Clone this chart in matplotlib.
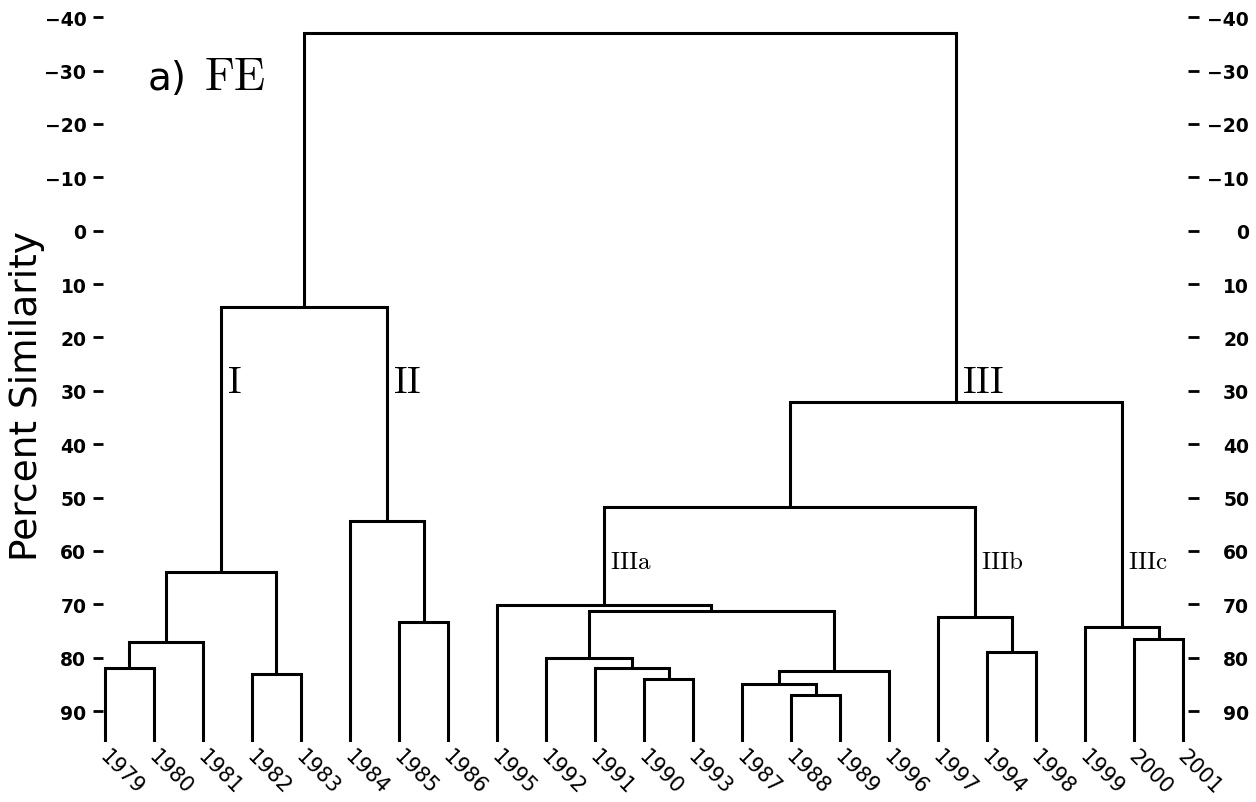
import matplotlib.pyplot as plt
from matplotlib.transforms import offset_copy, ScaledTranslation

plt.rcParams['mathtext.fontset'] = 'cm'
plt.rcParams['font.family'] = 'DejaVu Sans'

years = ['1979', '1980', '1981', '1982', '1983', '1984', '1985', '1986', '1995', '1992', '1991', '1990',
         '1993', '1987', '1988', '1989', '1996', '1997', '1994', '1998', '1999', '2000', '2001']
# linkage table: children are leaf indices (0-22) or earlier merges (23+), level = percent similarity
left = [0, 23, 3, 24, 6, 5, 11, 10, 9, 14, 13, 33, 31, 8, 18, 17, 36, 21, 20, 39, 26, 43]
right = [1, 2, 4, 25, 7, 27, 12, 29, 30, 15, 32, 16, 34, 35, 19, 37, 38, 22, 40, 41, 28, 42]
level = [82, 77, 83, 64, 73.3, 54.4, 84, 82, 80, 87, 85, 82.5, 71.3, 70.2, 79, 72.4, 51.8, 76.5, 74.2, 32.1, 14.3, -37]

group_names = ['I', 'II', 'III', 'IIIa', 'IIIb', 'IIIc']
group_nodes = [26, 28, 42, 36, 38, 41]
group_y = [28.4, 28.4, 28.4, 61.8, 61.8, 61.8]
yticks = list(range(-40, 91, 10))

base = 95.8
fig = plt.figure(figsize=(12.56, 8.03), dpi=100)
ax = fig.add_axes([103/1256, 60/803, 1085/1256, 728/803])

xs = list(range(len(years)))
ys = [base]*len(years)
for a, b, h in zip(left, right, level):
    ax.plot([xs[a], xs[a], xs[b], xs[b]], [ys[a], h, h, ys[b]], color='black', lw=2.2,
            solid_capstyle='butt', solid_joinstyle='miter')
    xs.append((xs[a] + xs[b]) / 2)
    ys.append(h)

ax.set_xlim(-0.04, 22.1)
ax.set_ylim(base, -40.6)

shift = offset_copy(ax.transData, fig=fig, x=6, y=0, units='dots')
for name, n, y in zip(group_names, group_nodes, group_y):
    fs = 27 if len(name) <= 3 else 18
    ax.text(xs[n], y, r'$\mathrm{%s}$' % name, transform=shift, fontsize=fs, ha='left', va='center')

for s in ax.spines.values():
    s.set_visible(False)

ax.set_xticks(range(len(years)))
ax.set_xticklabels(years, rotation=-45, ha='left', va='top', rotation_mode='anchor', fontsize=15)
ax.tick_params(axis='x', length=0, pad=3)
nudge = ScaledTranslation(5/100, 0, fig.dpi_scale_trans)
for t in ax.get_xticklabels():
    t.set_transform(t.get_transform() + nudge)

ax.set_yticks(yticks)
ax.tick_params(axis='y', length=7, width=2, pad=5, labelsize=13.5)
for t in ax.get_yticklabels():
    t.set_fontweight('bold')

ax2 = ax.twinx()
ax2.set_ylim(ax.get_ylim())
ax2.set_yticks(yticks)
ax2.tick_params(axis='y', length=8, width=2, pad=36, labelsize=13.5)
for t in ax2.get_yticklabels():
    t.set_fontweight('bold')
    t.set_horizontalalignment('right')
for s in ax2.spines.values():
    s.set_visible(False)

fig.text(27/1256, 1 - 396/803, 'Percent Similarity', rotation=90, fontsize=27, ha='center', va='center')
fig.text(148/1256, 1 - 90/803, 'a)', fontsize=28, ha='left', va='baseline')
fig.text(204/1256, 1 - 90/803, r'$\mathrm{FE}$', fontsize=33, ha='left', va='baseline')

fig.savefig('out.png', dpi=100)
